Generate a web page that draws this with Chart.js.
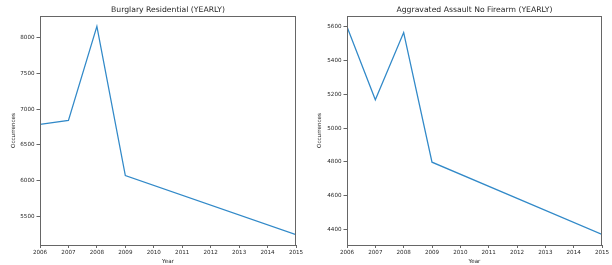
<!DOCTYPE html>
<html>
<head>
<meta charset="utf-8">
<script src="https://cdn.jsdelivr.net/npm/chart.js@4"></script>
<style>
  html, body { margin: 0; padding: 0; background: #fff; }
  #wrap { position: relative; width: 612px; height: 265px; overflow: hidden; }
  .panel { position: absolute; top: 0; width: 306px; height: 265px; }
</style>
</head>
<body>
<div id="wrap">
  <div class="panel" style="left:0"><canvas id="burglary" width="306" height="265"></canvas></div>
  <div class="panel" style="left:306px"><canvas id="assault" width="306" height="265"></canvas></div>
</div>
<script>
// data
const years = [2006, 2007, 2008, 2009, 2015];
const burglaryValues = [6789, 6845, 8160, 6072, 5245];
const assaultValues = [5600, 5167, 5565, 4798, 4370];

const xTicks = [2006, 2007, 2008, 2009, 2010, 2011, 2012, 2013, 2014, 2015];
const burglaryTicks = [5500, 6000, 6500, 7000, 7500, 8000];
const assaultTicks = [4400, 4600, 4800, 5000, 5200, 5400, 5600];

const burglaryRange = [5100, 8305];
const assaultRange = [4308, 5663];

const FONT = 'DejaVu Sans';
const TEXT = '#262626';
const SPINE = '#666';

// matplotlib draws a box round the axes
const framePlugin = {
    id: 'frame',
    afterDraw(chart) {
        const { ctx, chartArea: { left, top, right, bottom } } = chart;
        ctx.save();
        ctx.strokeStyle = SPINE;
        ctx.lineWidth = 1;
        ctx.strokeRect(Math.round(left) + 0.5, Math.round(top) + 0.5,
            Math.round(right - left) - 1, Math.round(bottom - top));
        ctx.restore();
    }
};

function makeChart(id, title, values, yTicks, yRange, axisWidth) {
    const ctx = document.getElementById(id).getContext('2d');
    return new Chart(ctx, {
        type: 'line',
        data: {
            datasets: [{
                data: years.map((y, i) => ({ x: y, y: values[i] })),
                borderColor: '#3189c8',
                borderWidth: 1.25,
                pointRadius: 0,
                tension: 0,
                fill: false
            }]
        },
        options: {
            responsive: false,
            animation: false,
            devicePixelRatio: 1,
            layout: { padding: { left: 0, right: 10, top: 0, bottom: 0 } },
            plugins: {
                legend: { display: false },
                tooltip: { enabled: false },
                title: {
                    display: true,
                    text: title,
                    fullSize: false,
                    color: TEXT,
                    font: { family: FONT, size: 7.7, weight: 'normal' },
                    padding: { top: 5, bottom: 1.76 }
                }
            },
            scales: {
                x: {
                    type: 'linear',
                    min: xTicks[0],
                    max: xTicks[xTicks.length - 1],
                    afterBuildTicks: s => { s.ticks = xTicks.map(v => ({ value: v })); },
                    afterFit: s => { s.height = 20; s.paddingLeft = 0; s.paddingRight = 0; },
                    border: { display: false },
                    grid: { drawOnChartArea: false, tickLength: 3, color: SPINE },
                    ticks: {
                        autoSkip: false, maxRotation: 0, padding: 1,
                        color: TEXT, font: { family: FONT, size: 5.6 },
                        callback: v => String(v)
                    },
                    title: {
                        display: true, text: 'Year', color: TEXT,
                        font: { family: FONT, size: 5.6 }, padding: 0
                    }
                },
                y: {
                    min: yRange[0],
                    max: yRange[1],
                    afterBuildTicks: s => { s.ticks = yTicks.map(v => ({ value: v })); },
                    afterFit: s => { s.width = axisWidth; s.paddingTop = 0; s.paddingBottom = 0; },
                    border: { display: false },
                    grid: { drawOnChartArea: false, tickLength: 3.5, color: SPINE },
                    ticks: {
                        padding: 2, color: TEXT,
                        font: { family: FONT, size: 5.6 },
                        callback: v => String(v)
                    },
                    title: {
                        display: true, text: 'Occurrences', color: TEXT,
                        font: { family: FONT, size: 5.6 }, padding: { top: 10, bottom: 0 }
                    }
                }
            }
        },
        plugins: [framePlugin]
    });
}

makeChart('burglary', 'Burglary Residential (YEARLY)', burglaryValues, burglaryTicks, burglaryRange, 40);
makeChart('assault', 'Aggravated Assault No Firearm (YEARLY)', assaultValues, assaultTicks, assaultRange, 41);
</script>
</body>
</html>
